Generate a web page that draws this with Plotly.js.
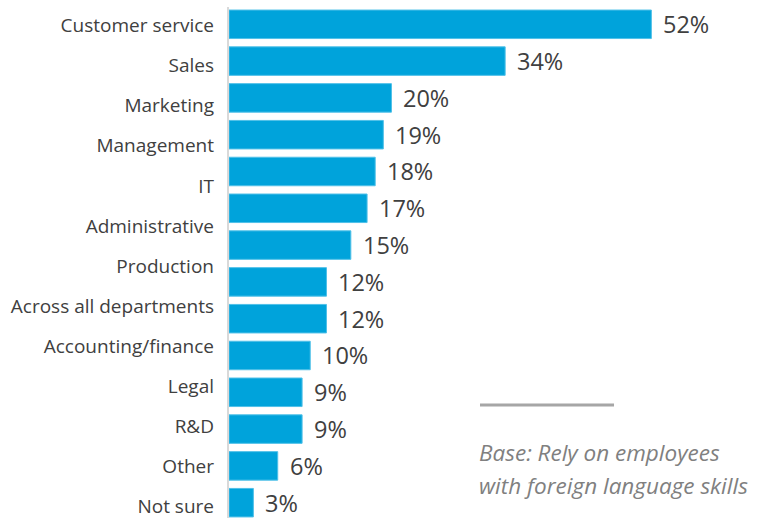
<!DOCTYPE html>
<html>
<head>
<meta charset="utf-8">
<script src="https://cdn.plot.ly/plotly-3.0.1.min.js"></script>
<style>html,body{margin:0;padding:0;background:#fff;}#chart{width:761px;height:518px;}</style>
</head>
<body>
<div id="chart"></div>
<script>
// Category labels as printed (13 labels, 14 bars in the source)
var categories = ["Customer service", "Sales", "Marketing", "Management", "IT",
  "Administrative", "Production", "Across all departments", "Accounting/finance",
  "Legal", "R&D", "Other", "Not sure"];
// Bar values (%)
var values = [52, 34, 20, 19, 18, 17, 15, 12, 12, 10, 9, 9, 6, 3];
var valueLabels = ["52%", "34%", "20%", "19%", "18%", "17%", "15%", "12%", "12%", "10%", "9%", "9%", "6%", "3%"];
var footnote = ["Base: Rely on employees", "with foreign language skills"];

var barPos = values.map(function (_, i) { return i; });

var bars = {
  type: 'bar', orientation: 'h',
  x: values, y: barPos,
  width: 0.775,
  marker: { color: '#00A3DB', line: { color: '#4FC0E8', width: 1 } },
  hoverinfo: 'skip'
};
var labelTrace = {
  type: 'scatter', mode: 'markers',
  x: categories.map(function () { return 0; }), y: categories,
  yaxis: 'y2', marker: { opacity: 0 }, hoverinfo: 'skip', showlegend: false
};

var annotations = values.map(function (v, i) {
  return { x: v, y: i, xref: 'x', yref: 'y', text: valueLabels[i], showarrow: false,
    xanchor: 'left', yanchor: 'middle', xshift: 11, yshift: 0, borderpad: 0,
    font: { family: 'Open Sans', size: 23.5, color: '#404040' } };
});
footnote.forEach(function (t, k) {
  annotations.push({ x: 0.4718, y: k === 0 ? 0.129 : 0.0636, xref: 'paper', yref: 'paper',
    text: '<i>' + t + '</i>', showarrow: false, xanchor: 'left', yanchor: 'middle', xshift: -3,
    font: { family: 'Open Sans', size: 22.5, color: '#808080' } });
});

var layout = {
  width: 761, height: 518,
  margin: { l: 229, r: 0, t: 7, b: 0, pad: 0 },
  paper_bgcolor: '#fff', plot_bgcolor: '#fff',
  showlegend: false,
  xaxis: { range: [0, 65.5], visible: false, fixedrange: true },
  yaxis: { range: [13.416, -0.47], showticklabels: false, showgrid: false, zeroline: false,
    showline: true, linecolor: '#d9d9d9', linewidth: 2, ticks: '', fixedrange: true },
  yaxis2: { type: 'category', overlaying: 'y', side: 'left', anchor: 'x',
    categoryorder: 'array', categoryarray: categories,
    range: [12.282, -0.461], showgrid: false, zeroline: false, showline: false, ticks: '',
    ticklabelstandoff: 14,
    tickfont: { family: 'Open Sans', size: 19, color: '#404040' }, fixedrange: true },
  shapes: [{ type: 'line', xref: 'paper', yref: 'paper', x0: 0.4718, x1: 0.7237,
    y0: 0.2211, y1: 0.2211, line: { color: '#a6a6a6', width: 3 } }],
  annotations: annotations
};

Plotly.newPlot('chart', [bars, labelTrace], layout, { staticPlot: true, displayModeBar: false });
</script>
</body>
</html>
